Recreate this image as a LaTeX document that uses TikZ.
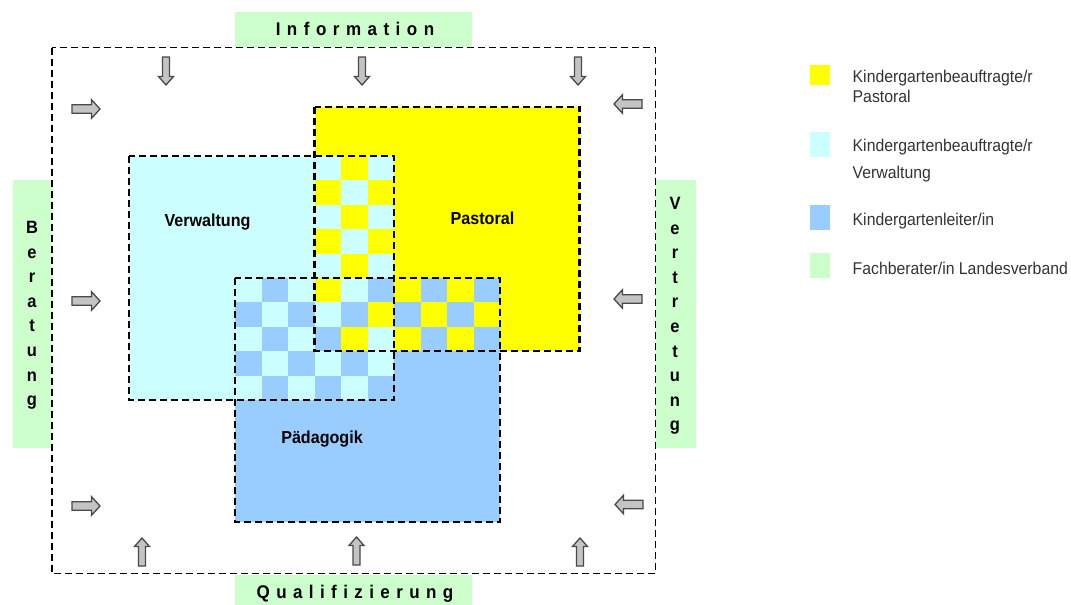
\documentclass[tikz,border=0pt]{standalone}
\usepackage{fontspec}
\setmainfont{Liberation Sans}
\definecolor{cyanA}{HTML}{CCFFFF}
\definecolor{yelA}{HTML}{FFFF00}
\definecolor{blueA}{HTML}{99CCFF}
\definecolor{greenA}{HTML}{CCFFCC}
\definecolor{arrowfill}{HTML}{C4C4C4}
\definecolor{arrowline}{HTML}{4A4A4A}
\definecolor{legtext}{HTML}{333333}
\makeatletter
\newcommand\spaceout[2]{\def\sp@gap{#1}\@tfor\sp@c:=#2\do{\sp@c\kern\sp@gap\relax}\unkern}
\makeatother
\newcommand\cw{26.5}
\newcommand\ch{24.4}
\newcommand\cellfill[3]{\fill[#3] ({129+\cw*#1},{156+\ch*#2}) rectangle ++(\cw,\ch);}
\begin{document}
\begin{tikzpicture}[x=1pt,y=-1pt,
  region/.style={rectangle, inner sep=0pt, outer sep=0pt, minimum width=265pt, minimum height=244pt, anchor=north west},
  dashline/.style={draw=black, line width=2.2pt, dash pattern=on 7pt off 4pt},
  greenbox/.style={rectangle, fill=greenA, inner sep=0pt, outer sep=0pt},
  bigtext/.style={font=\fontsize{17}{20}\selectfont\bfseries, yscale=1.08, inner sep=0pt, anchor=base},
  vlet/.style={font=\fontsize{16.5}{20}\selectfont\bfseries, yscale=1.08, inner sep=0pt, anchor=base},
  lab/.style={font=\fontsize{16.1}{20}\selectfont\bfseries, yscale=1.08, inner sep=0pt, anchor=base},
  legsq/.style={rectangle, inner sep=0pt, outer sep=0pt, minimum width=20pt, anchor=north west},
  legtx/.style={font=\fontsize{15.8}{20}\selectfont, text=legtext, yscale=1.08, inner sep=0pt, anchor=base west},
  arrowsty/.style={fill=arrowfill, draw=arrowline, line width=1.3pt, line join=miter},
  varrow/.pic={\draw[arrowsty] (-3.5,0) -- (-3.5,19.5) -- (-7.5,19.5) -- (0,28) -- (7.5,19.5) -- (3.5,19.5) -- (3.5,0) -- cycle;},
  harrow/.pic={\draw[arrowsty] (0,-4.2) -- (19.5,-4.2) -- (19.5,-9.3) -- (28,0) -- (19.5,9.3) -- (19.5,4.2) -- (0,4.2) -- cycle;}
]
\useasboundingbox (0,0) rectangle (1071,605);

% green label boxes
\node[greenbox, minimum width=237pt, minimum height=35pt, anchor=north west] (infobox) at (235,12) {};
\node[greenbox, minimum width=237pt, minimum height=30pt, anchor=north west] (qualbox) at (235,575) {};
\node[greenbox, minimum width=39pt, minimum height=268pt, anchor=north west] (berbox) at (13,180) {};
\node[greenbox, minimum width=40pt, minimum height=268pt, anchor=north west] (verbox) at (655.5,180) {};

% outer frame
\draw[dashline, line width=1.9pt] (52,47.5) rectangle (655.5,573.5);

% base regions
\node[region, fill=cyanA] (verw) at (129,156) {};
\node[region, fill=yelA] (past) at ({129+7*\cw},{156-2*\ch}) {};
\node[region, fill=blueA] (paed) at ({129+4*\cw},{156+5*\ch}) {};

% checker: Verwaltung & Pastoral
\foreach \c in {7,8,9} { \foreach \r in {0,...,4} {
  \pgfmathtruncatemacro\p{mod(\c+\r,2)}
  \ifnum\p=1 \cellfill{\c}{\r}{cyanA}\else\cellfill{\c}{\r}{yelA}\fi
}}
% checker: Verwaltung & Paedagogik
\foreach \c in {4,5,6} { \foreach \r in {5,...,9} {
  \pgfmathtruncatemacro\p{mod(\c+\r,2)}
  \ifnum\p=1 \cellfill{\c}{\r}{cyanA}\else\cellfill{\c}{\r}{blueA}\fi
}}
\foreach \c in {7,8,9} { \foreach \r in {8,9} {
  \pgfmathtruncatemacro\p{mod(\c+\r,2)}
  \ifnum\p=1 \cellfill{\c}{\r}{cyanA}\else\cellfill{\c}{\r}{blueA}\fi
}}
% checker: Pastoral & Paedagogik
\foreach \c in {10,...,13} { \foreach \r in {5,6,7} {
  \pgfmathtruncatemacro\p{mod(\c+\r,2)}
  \ifnum\p=1 \cellfill{\c}{\r}{yelA}\else\cellfill{\c}{\r}{blueA}\fi
}}
% checker: all three
\foreach \c in {7,8,9} { \foreach \r in {5,6,7} {
  \pgfmathtruncatemacro\p{mod(\c+\r,3)}
  \ifcase\p \cellfill{\c}{\r}{yelA}\or \cellfill{\c}{\r}{cyanA}\or \cellfill{\c}{\r}{blueA}\fi
}}

% dashed outlines
\draw[dashline] (verw.north west) rectangle (verw.south east);
\draw[dashline] (past.north west) rectangle (past.south east);
\draw[dashline] (paed.north west) rectangle (paed.south east);

% region labels
\node[lab] (tverw) at (207.5,226.5) {Verwaltung};
\node[lab] (tpast) at (482.5,224) {Pastoral};
\node[lab] (tpaed) at (322,443) {Pädagogik};

% side labels
\node[bigtext] (tinfo) at (355,35.5) {\spaceout{6.5pt}{Information}};
\node[bigtext] (tqual) at (355,598) {\spaceout{6.4pt}{Qualifizierung}};
\foreach \l [count=\i from 0] in {B,e,r,a,t,u,n,g}
  \node[vlet] (ber\i) at (32,{233.5+24.6*\i}) {\l};
\foreach \l [count=\i from 0] in {V,e,r,t,r,e,t,u,n,g}
  \node[vlet] (ver\i) at (675,{209.5+24.6*\i}) {\l};

% arrows
\pic (ad1) at (166,57) {varrow};
\pic (ad2) at (362,57) {varrow};
\pic (ad3) at (578,57) {varrow};
\pic[rotate=180] (au1) at (142,566) {varrow};
\pic[rotate=180] (au2) at (356.5,565) {varrow};
\pic[rotate=180] (au3) at (580,566) {varrow};
\pic (ar1) at (72,109) {harrow};
\pic (ar2) at (72,301) {harrow};
\pic (ar3) at (72,506) {harrow};
\pic[rotate=180] (al1) at (642,104) {harrow};
\pic[rotate=180] (al2) at (642,299) {harrow};
\pic[rotate=180] (al3) at (643,504.5) {harrow};

% legend
\node[legsq, fill=yelA, minimum height=20pt] (lsq1) at (810,65) {};
\node[legsq, fill=cyanA, minimum height=25pt] (lsq2) at (810,132) {};
\node[legsq, fill=blueA, minimum height=25pt] (lsq3) at (810,205) {};
\node[legsq, fill=greenA, minimum height=25pt] (lsq4) at (810,253) {};
\node[legtx] (lt1a) at (852.5,82.3) {Kindergartenbeauftragte/r};
\node[legtx] (lt1b) at (852.5,102.3) {Pastoral};
\node[legtx] (lt2a) at (852.5,151.7) {Kindergartenbeauftragte/r};
\node[legtx] (lt2b) at (852.5,178.3) {Verwaltung};
\node[legtx] (lt3) at (852.5,225.7) {Kindergartenleiter/in};
\node[legtx] (lt4) at (852.5,274) {Fachberater/in Landesverband};
\end{tikzpicture}
\end{document}
